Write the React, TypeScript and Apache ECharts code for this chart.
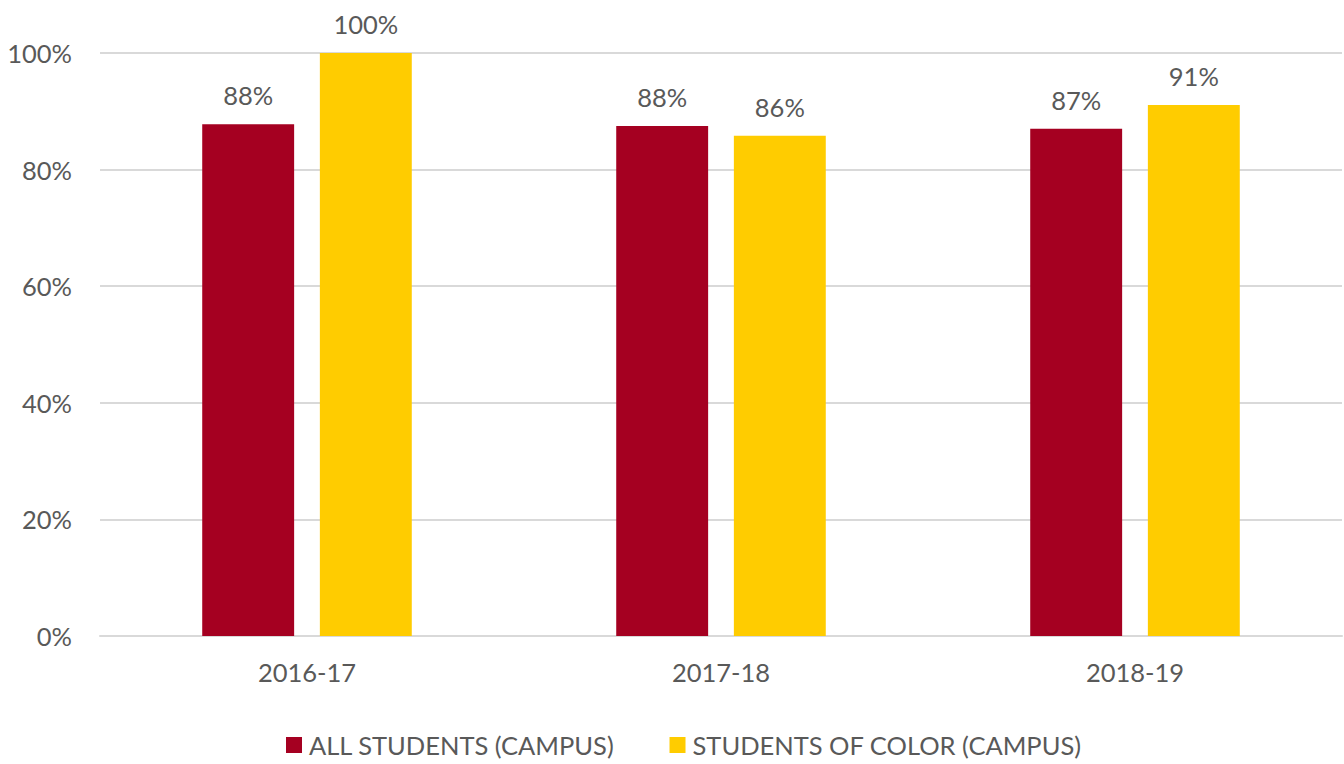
import React, { useEffect, useRef } from "react";
import * as echarts from "echarts";

const categories = ["2016-17", "2017-18", "2018-19"];
const allStudents = [0.878, 0.875, 0.87];
const studentsOfColor = [1.0, 0.858, 0.911];
const seriesNames = ["ALL STUDENTS (CAMPUS)", "STUDENTS OF COLOR (CAMPUS)"];
const colors = ["#A50021", "#FFCC00"];

const FONT = "Lato";
const TXT = "#595959";

export default function App() {
  const ref = useRef<HTMLDivElement>(null);
  useEffect(() => {
    const chart = echarts.init(ref.current!, null, { renderer: "svg" });
    const pct = (v: number) => Math.round(v * 100) + "%";
    const mk = (name: string, data: number[], color: string) => ({
      name,
      type: "bar",
      data,
      barWidth: "22.2%",
      barGap: "28%",
      itemStyle: { color },
      label: {
        show: true,
        position: "top",
        distance: 16,
        formatter: (p: any) => pct(p.value),
        color: TXT,
        fontFamily: FONT,
        fontSize: 25.5,
      },
    });
    chart.setOption({
      animation: false,
      grid: { left: 100, right: 2, top: 53, bottom: 128, containLabel: false },
      legend: {
        bottom: 1,
        left: 281,
        itemWidth: 16,
        itemHeight: 16,
        itemGap: 55,
        icon: "rect",
        textStyle: { color: TXT, fontFamily: FONT, fontSize: 25.5, padding: [0, 0, 0, 2] },
        data: seriesNames,
      },
      xAxis: {
        type: "category",
        data: categories,
        axisLine: { lineStyle: { color: "#d9d9d9", width: 2 } },
        axisTick: { show: false },
        axisLabel: { color: TXT, fontFamily: FONT, fontSize: 25.5, margin: 23 },
      },
      yAxis: {
        type: "value",
        min: 0,
        max: 1,
        interval: 0.2,
        axisLine: { show: false },
        axisTick: { show: false },
        splitLine: { lineStyle: { color: "#d9d9d9", width: 2 } },
        axisLabel: {
          color: TXT,
          fontFamily: FONT,
          fontSize: 25.5,
          margin: 28,
          formatter: (v: number) => Math.round(v * 100) + "%",
        },
      },
      series: [
        mk(seriesNames[0], allStudents, colors[0]),
        mk(seriesNames[1], studentsOfColor, colors[1]),
      ],
    });
    return () => chart.dispose();
  }, []);
  return <div ref={ref} style={{ width: 1344, height: 764, position: "absolute", left: 0, top: 0 }} />;
}
